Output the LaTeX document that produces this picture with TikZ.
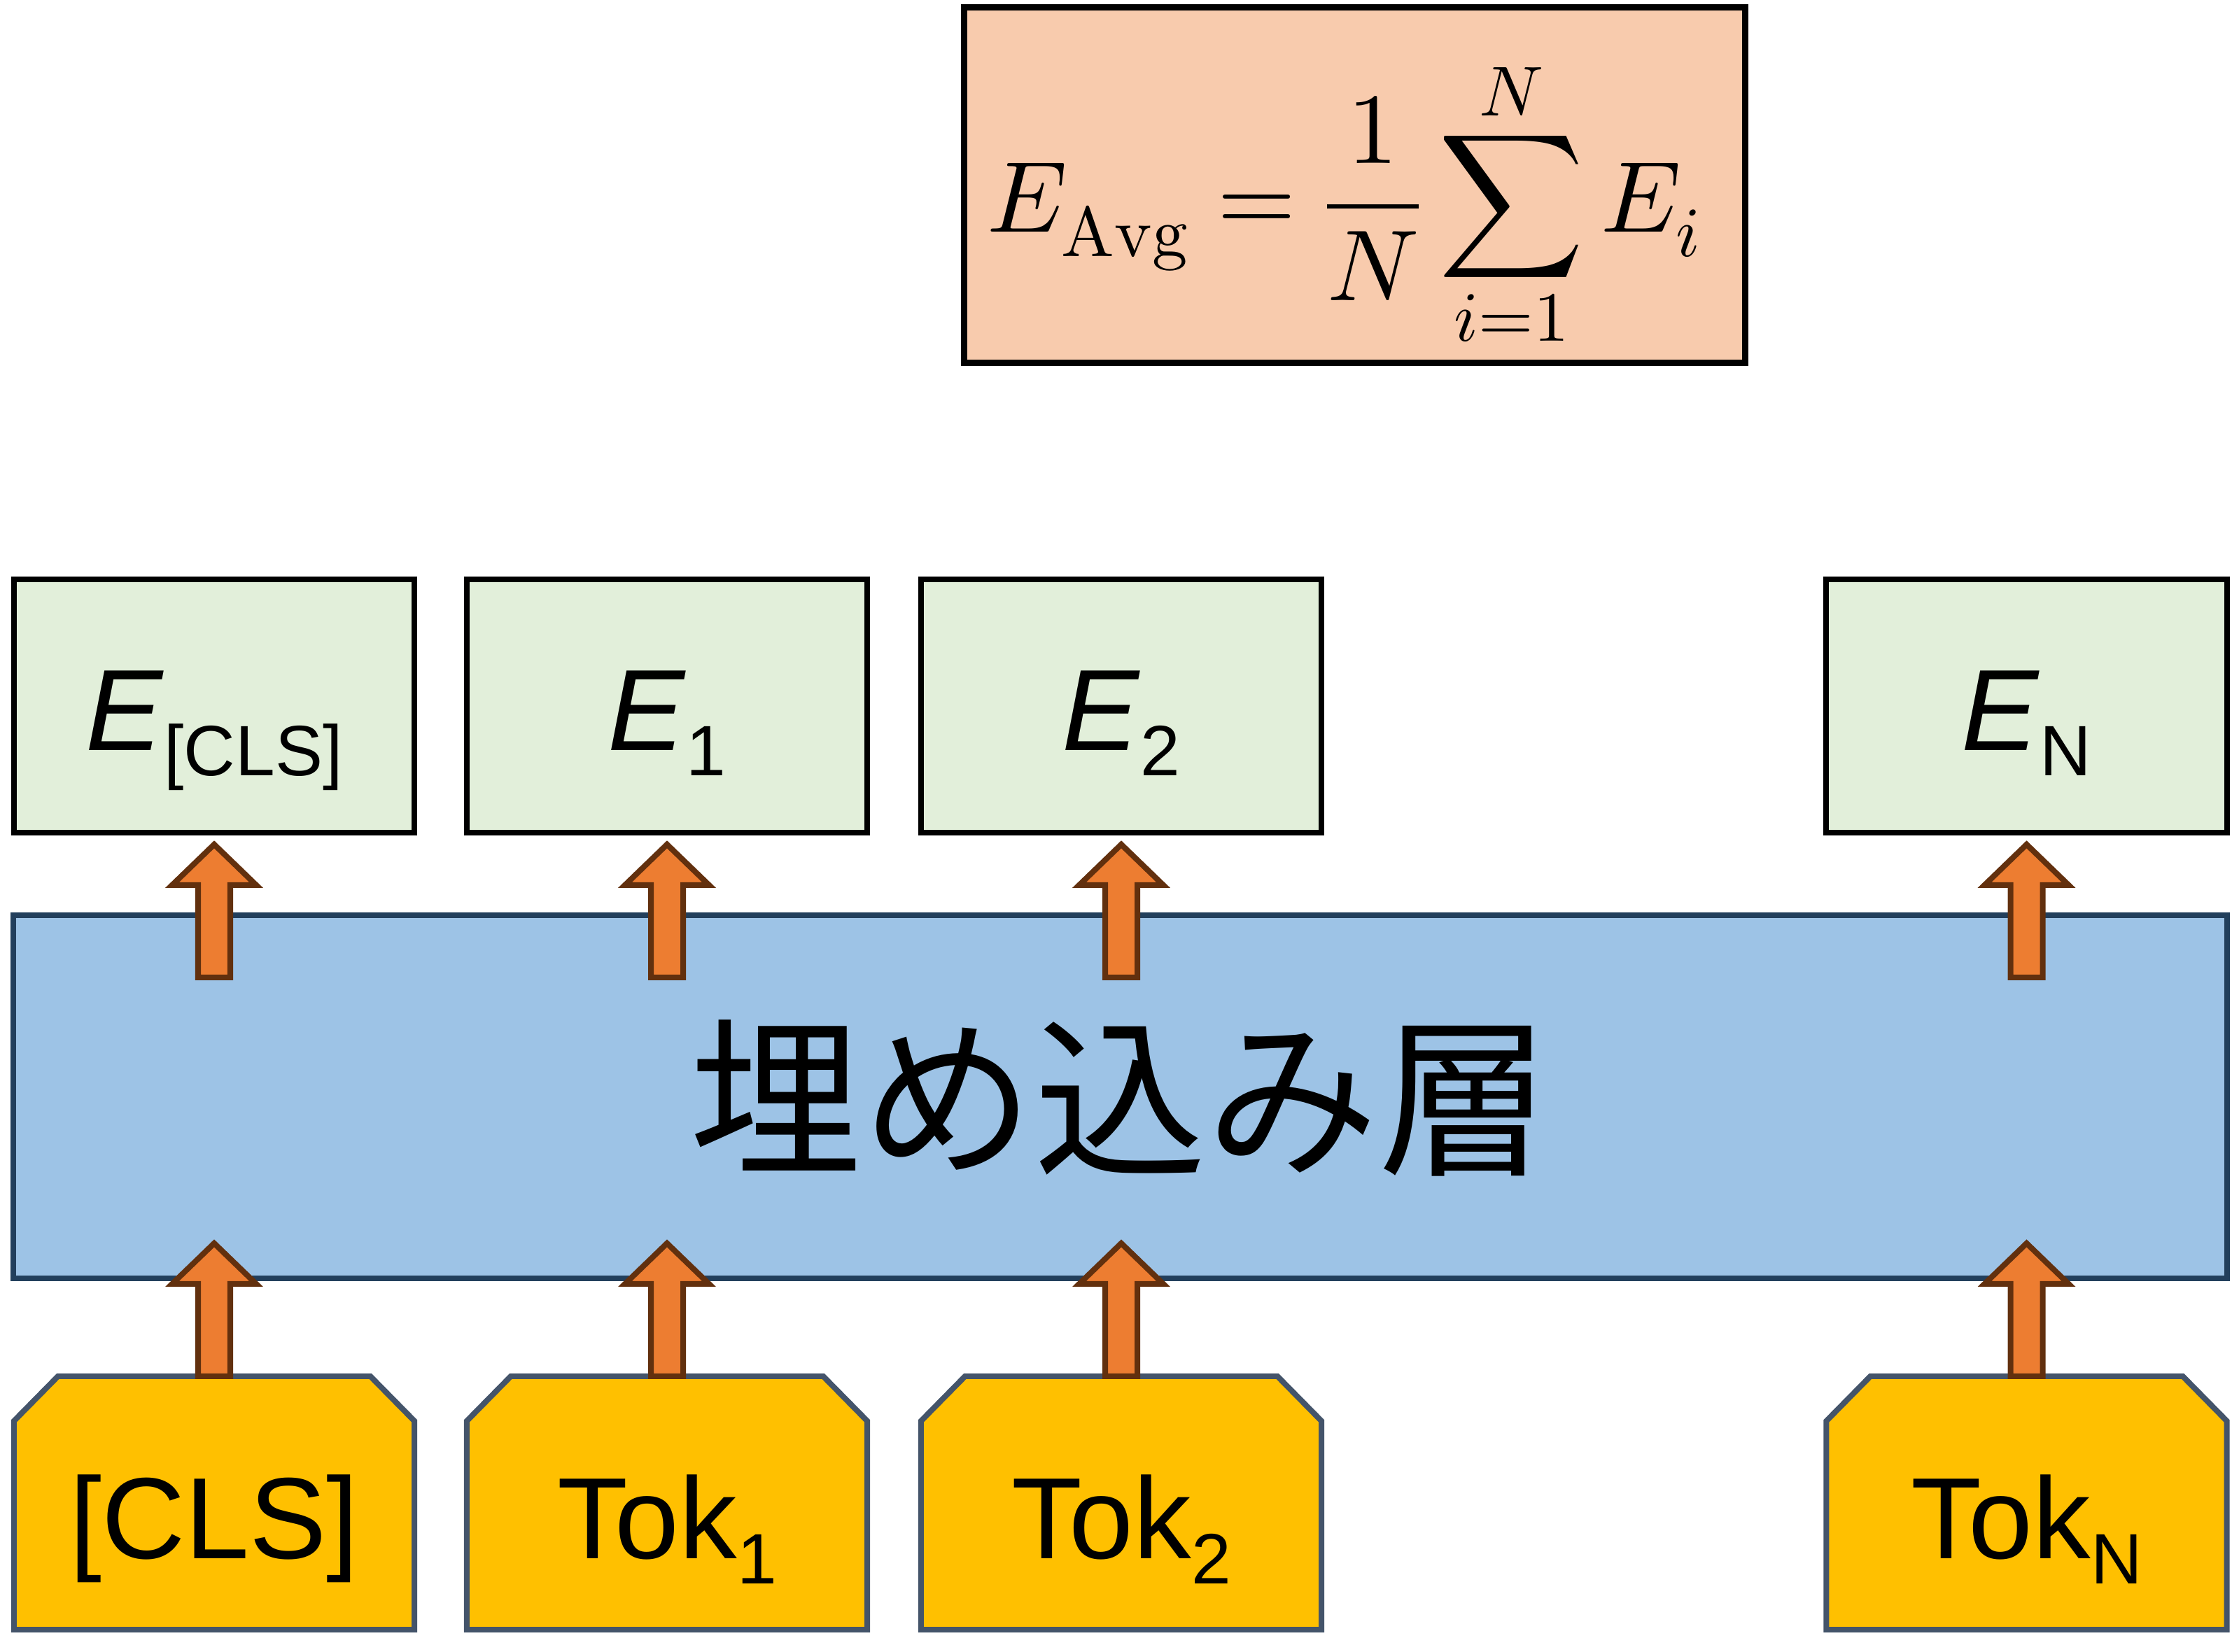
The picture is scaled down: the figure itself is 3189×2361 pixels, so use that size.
\documentclass[tikz,border=0pt]{standalone}
\usepackage{amsmath}
\usepackage{unicode-math}
\setmainfont{Liberation Sans}
\setmathfont{Latin Modern Math}
\newfontfamily\jpfont{Noto Sans CJK JP}
\usetikzlibrary{calc}
\pgfdeclarelayer{background}
\pgfsetlayers{background,main}
\definecolor{mgreen}{HTML}{E2EFDA}
\definecolor{mblue}{HTML}{9DC3E6}
\definecolor{mnavy}{HTML}{223F5C}
\definecolor{myellow}{HTML}{FFC000}
\definecolor{mslate}{HTML}{44546A}
\definecolor{morange}{HTML}{ED7D31}
\definecolor{mbrown}{HTML}{62300E}
\definecolor{mpeach}{HTML}{F8CBAD}
\tikzset{formulabox/.style = {draw=black, fill=mpeach, line width=0.09cm,
                              minimum width=11.16cm, minimum height=5.08cm,
                              inner sep=0pt, text height=2.5cm, text depth=1.17cm,
                              font=\fontsize{41}{48}\selectfont},
         layerbox/.style = {draw=mnavy, fill=mblue, line width=0.08cm, outer sep=0pt,
                            minimum width=31.61cm, minimum height=5.19cm,
                            inner sep=0pt, text height=61.6pt, text depth=8.4pt,
                            font=\jpfont\fontsize{70}{80}\selectfont},
         embbox/.style = {draw=black, fill=mgreen, line width=0.08cm, outer sep=0pt,
                          minimum width=5.72cm, minimum height=3.62cm,
                          inner sep=0pt, text height=1.26cm, text depth=0pt,
                          font=\fontsize{47}{50}\selectfont},
         tokbox/.style = {outer sep=0pt, minimum width=5.72cm, minimum height=3.62cm,
                          inner sep=0pt, text height=1.58cm, text depth=0pt,
                          font=\fontsize{47}{50}\selectfont},
         tokframe/.style = {draw=mslate, fill=myellow, line width=0.08cm},
         uparrow/.style = {draw=mbrown, fill=morange, line width=0.08cm}}
\newcommand{\tokidx}[1]{\raisebox{-10.5pt}{\fontsize{29}{29}\selectfont #1}}
\newcommand{\blockup}[1]{\draw [uparrow] #1 ++(-23, 0) -- ++(0, -132) -- ++(-37, 0)
    -- ++(60, -58) -- ++(60, 58) -- ++(-37, 0) -- ++(0, 132) -- cycle;}

\begin{document}
\begin{tikzpicture}[x=0.01cm, y=-0.01cm]
    \useasboundingbox (0, 0) rectangle (3189, 2361);

    \node [formulabox] (avg) at (1935.5, 264.5)
        {$\displaystyle E_{\symup{Avg}} = \frac{1}{N} \sum_{i=1}^{N} E_i$\hspace*{0.3cm}};

    \node [layerbox] (layer) at (1600.5, 1567.5) {埋め込み層};

    % embeddings and input tokens
    \foreach \n/\x/\s in {0/306/{[CLS]}, 1/953/1, 2/1602/2, 3/2895.5/N}
        \node [embbox] (e\n) at (\x, 1009) {\textit{E}\tokidx{\s}};
    \node [tokbox] (t0) at (306, 2148) {[CLS]};
    \foreach \n/\x/\s in {1/953/1, 2/1602/2, 3/2895.5/N}
        \node [tokbox] (t\n) at (\x, 2148) {Tok\tokidx{\s}};

    \begin{pgfonlayer}{background}
        \foreach \n in {0, ..., 3}
            \draw [tokframe] (t\n.south west) -- ([yshift=-0.64cm] t\n.north west)
                -- ([xshift=0.63cm] t\n.north west) -- ([xshift=-0.63cm] t\n.north east)
                -- ([yshift=-0.64cm] t\n.north east) -- (t\n.south east) -- cycle;
    \end{pgfonlayer}

    \foreach \n in {0, ..., 3} {
        \blockup{(t\n.north)}
        \blockup{($(e\n.south |- layer.north) + (0, 89)$)}
    }
\end{tikzpicture}
\end{document}
